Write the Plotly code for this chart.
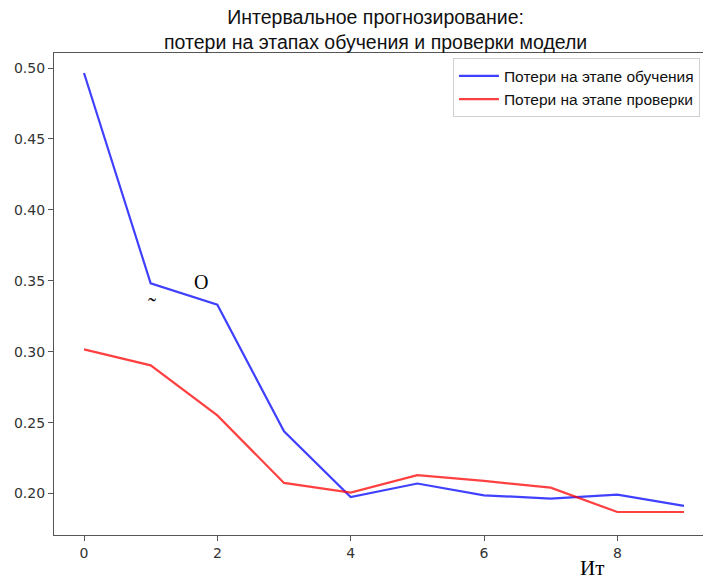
import plotly.graph_objects as go

epochs = [0, 1, 2, 3, 4, 5, 6, 7, 8, 9]
train_loss = [0.4965, 0.3482, 0.3332, 0.2439, 0.1976, 0.2071, 0.1988, 0.1965, 0.1993, 0.1913]
val_loss = [0.3017, 0.2904, 0.2551, 0.2075, 0.2007, 0.2130, 0.2089, 0.2042, 0.1870, 0.1870]
y_ticks = [0.20, 0.25, 0.30, 0.35, 0.40, 0.45, 0.50]
x_ticks = [0, 2, 4, 6, 8]

title_text = "Интервальное прогнозирование:<br>потери на этапах обучения и проверки модели"
train_name = "Потери на этапе обучения"
val_name = "Потери на этапе проверки"

fig = go.Figure()
fig.add_trace(go.Scatter(x=epochs, y=train_loss, mode="lines", name=train_name,
                         line=dict(color="rgba(0,0,255,0.75)", width=2.2)))
fig.add_trace(go.Scatter(x=epochs, y=val_loss, mode="lines", name=val_name,
                         line=dict(color="rgba(255,0,0,0.75)", width=2.2)))

tick_font = dict(family="DejaVu Sans", size=14, color="#333333")
fig.update_layout(
    width=711, height=581,
    margin=dict(l=46, r=5, t=45, b=54, autoexpand=False),
    paper_bgcolor="white", plot_bgcolor="white",
    showlegend=True,
    legend=dict(x=0.6045, y=0.989, xanchor="left", yanchor="top",
                bgcolor="white", bordercolor="#d0d0d0", borderwidth=1,
                font=dict(family="Liberation Sans", size=15.5, color="#111111"),
                tracegroupgap=0, itemwidth=40),
    xaxis=dict(range=[-0.45, 9.45], tickvals=x_ticks, showgrid=False, zeroline=False,
               showline=True, mirror=True, linecolor="#555555", linewidth=1.3, automargin=False,
               ticks="outside", ticklen=5, tickcolor="#555555", tickfont=tick_font),
    yaxis=dict(range=[0.1708, 0.5106], tickvals=y_ticks, tickformat=".2f", showgrid=False,
               zeroline=False, showline=True, mirror=True, linecolor="#555555", linewidth=1.3,
               automargin=False,
               ticks="outside", ticklen=5, tickcolor="#555555", tickfont=tick_font),
)
fig.add_annotation(text=title_text, xref="paper", yref="paper", x=0.4864, y=1,
                   yshift=24, xanchor="center", yanchor="middle", showarrow=False,
                   font=dict(family="Liberation Sans", size=19.5, color="#111111"))
fig.add_annotation(text="О", xref="x", yref="y", x=1.75, y=0.349, showarrow=False,
                   font=dict(family="Liberation Serif", size=20, color="black"))
fig.add_annotation(text="˜", xref="x", yref="y", x=1.02, y=0.332, showarrow=False,
                   font=dict(family="Liberation Serif", size=24, color="black"))
fig.add_annotation(text="Ит", xref="paper", yref="paper", x=0.8167, y=0,
                   xshift=13, yshift=-33, showarrow=False, yanchor="middle",
                   font=dict(family="Liberation Serif", size=21, color="black"))

fig.write_html("out.html")
